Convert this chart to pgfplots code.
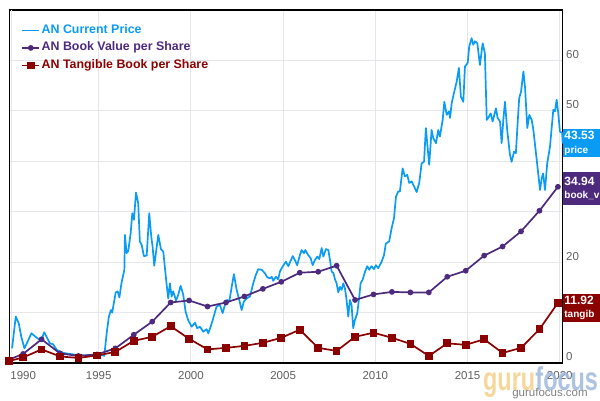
\documentclass[border=0pt]{standalone}
\usepackage{fontspec}
\setmainfont{Liberation Sans}
\usepackage{pgfplots}
\pgfplotsset{compat=1.18}
\definecolor{pricec}{HTML}{0A9BF5}
\definecolor{bookc}{HTML}{4E2A7E}
\definecolor{tangc}{HTML}{8B0000}
\definecolor{gridc}{HTML}{E4E6EA}
\definecolor{tickc}{HTML}{606060}
\definecolor{guruc}{HTML}{F5D08A}
\definecolor{focusc}{HTML}{9DB9DD}

\begin{document}
\begin{tikzpicture}
\begin{axis}[
  scale only axis, width=553.4pt, height=353pt,
  xmin=1990.15, xmax=2020.16, ymin=0, ymax=70,
  xtick={1995,2000,...,2020},
  extra x ticks={1990.28}, extra x tick labels={1990},
  extra x tick style={xticklabel style={xshift=11.5pt}},
  ytick={0,10,...,60},
  yticklabels={0,,20,,,50,60},
  yticklabel pos=right,
  /pgf/number format/1000 sep={},
  /pgf/number format/assume math mode=true,
  major tick length=0pt,
  xmajorgrids, ymajorgrids,
  major grid style={gridc, line width=1pt},
  axis line style={black, line width=1.2pt},
  tick label style={tickc, font=\fontsize{11.5}{13}\selectfont},
  xticklabel style={yshift=-5pt},
  yticklabel style={anchor=west, yshift=6pt},
  clip=false,
  legend cell align=left,
  legend style={at={(0.0215,0.964)}, anchor=north west, draw=none, fill=none,
    inner sep=0pt, row sep=2.5pt,
    font=\bfseries\fontsize{12.4}{14}\selectfont,
    nodes={inner sep=1.5pt, text height=9pt, text depth=3pt}},
]
\addplot[pricec, line width=1.7pt, line join=round] coordinates {
(1990.3,2.9) (1990.5,9.2) (1990.66,7.9) (1990.8,5.2) (1990.97,2.9) (1991.1,3.9)
(1991.35,5.9) (1991.57,5.2) (1991.8,4.6) (1991.93,4.9) (1992.04,6.1) (1992.17,5.2)
(1992.35,3.9) (1992.53,3.7) (1992.72,2.6) (1993.08,2.0) (1993.44,1.8) (1993.8,1.6)
(1994.25,1.5) (1994.7,1.6) (1995.16,1.6) (1995.3,1.4) (1995.43,5.9) (1995.55,9.2)
(1995.66,10.5) (1995.73,10.0) (1995.92,14.0) (1996.03,14.2) (1996.12,13.0) (1996.24,16.0)
(1996.39,18.5) (1996.42,25.4) (1996.51,21.8) (1996.6,22.2) (1996.73,25.7) (1996.82,29.7)
(1996.91,28.4) (1997.02,33.8) (1997.14,31.7) (1997.23,24.1) (1997.33,23.4) (1997.45,21.2)
(1997.6,21.3) (1997.74,29.7) (1997.85,25.0) (1997.92,23.1) (1998.01,19.3) (1998.23,25.4)
(1998.37,22.6) (1998.5,22.1) (1998.68,15.6) (1998.77,12.8) (1998.86,15.8) (1998.95,13.2)
(1999.04,14.2) (1999.19,12.4) (1999.31,13.5) (1999.44,15.3) (1999.58,13.6) (1999.71,10.2)
(1999.85,8.5) (2000.04,7.2) (2000.22,8.0) (2000.34,6.9) (2000.49,7.2) (2000.67,6.2)
(2000.85,6.7) (2000.94,5.9) (2001.07,7.2) (2001.21,8.9) (2001.39,11.2) (2001.57,11.5)
(2001.72,9.9) (2001.84,11.5) (2001.97,12.5) (2002.08,12.2) (2002.21,15.1) (2002.33,17.6)
(2002.48,14.5) (2002.62,12.5) (2002.75,10.5) (2002.87,12.2) (2003.02,12.8) (2003.2,13.2)
(2003.38,15.8) (2003.52,17.5) (2003.65,18.6) (2003.83,18.5) (2004.01,17.8) (2004.14,17.0)
(2004.28,16.8) (2004.38,17.1) (2004.46,16.3) (2004.61,17.1) (2004.73,16.6) (2004.83,18.2)
(2005.0,19.3) (2005.15,20.1) (2005.28,19.2) (2005.52,21.2) (2005.64,20.4) (2005.76,19.4)
(2005.91,21.4) (2006.0,22.4) (2006.13,21.8) (2006.2,22.4) (2006.36,21.4) (2006.49,20.8)
(2006.6,19.4) (2006.72,20.4) (2006.85,21.1) (2006.96,20.6) (2007.09,22.8) (2007.18,21.1)
(2007.32,22.6) (2007.45,22.4) (2007.54,20.4) (2007.63,18.1) (2007.72,17.9) (2007.81,16.6)
(2007.9,15.8) (2007.99,14.0) (2008.08,15.1) (2008.17,14.5) (2008.26,15.8) (2008.35,14.8)
(2008.44,12.5) (2008.53,9.2) (2008.62,12.5) (2008.71,11.5) (2008.8,6.9) (2008.89,8.5)
(2009.02,9.9) (2009.13,13.2) (2009.2,15.8) (2009.31,16.5) (2009.44,18.1) (2009.56,19.2)
(2009.67,18.5) (2009.8,19.2) (2009.92,18.6) (2010.03,19.4) (2010.16,18.8) (2010.34,20.1)
(2010.47,21.4) (2010.57,23.7) (2010.75,24.1) (2010.88,26.7) (2011.01,28.7) (2011.12,33.0)
(2011.24,34.0) (2011.33,34.0) (2011.48,38.6) (2011.6,37.0) (2011.73,37.3) (2011.84,35.7)
(2011.97,36.0) (2012.09,35.1) (2012.24,33.9) (2012.38,35.7) (2012.51,39.6) (2012.64,39.9)
(2012.74,46.6) (2012.87,41.3) (2012.92,39.3) (2013.05,46.2) (2013.14,44.6) (2013.29,43.6)
(2013.41,46.2) (2013.5,44.9) (2013.65,48.2) (2013.74,51.8) (2013.87,49.2) (2013.99,49.9)
(2014.05,48.6) (2014.14,51.5) (2014.26,53.5) (2014.41,55.8) (2014.53,58.5) (2014.64,52.8)
(2014.77,51.8) (2014.86,58.8) (2015.01,59.5) (2015.09,62.8) (2015.22,64.4) (2015.31,63.1)
(2015.4,63.8) (2015.53,63.4) (2015.67,59.1) (2015.82,63.4) (2015.94,61.4) (2016.04,48.2)
(2016.12,48.6) (2016.25,49.5) (2016.36,47.9) (2016.45,49.2) (2016.54,50.5) (2016.63,48.6)
(2016.76,47.9) (2016.85,43.6) (2016.94,48.2) (2017.03,51.8) (2017.15,46.2) (2017.3,41.3)
(2017.39,39.9) (2017.52,41.9) (2017.62,41.6) (2017.7,46.6) (2017.8,52.5) (2017.9,53.8)
(2018.03,57.8) (2018.12,54.5) (2018.24,46.6) (2018.35,49.2) (2018.48,48.2) (2018.57,46.2)
(2018.75,40.3) (2018.93,34.3) (2019.02,36.6) (2019.1,37.6) (2019.2,34.3) (2019.32,39.6)
(2019.47,42.9) (2019.65,50.2) (2019.74,49.9) (2019.83,52.2) (2019.92,49.5) (2020.01,45.9)
(2020.13,45.6) (2020.16,43.53)
};
\addlegendentry{\textcolor{pricec}{AN Current Price}}
\addplot[bookc, line width=1.7pt, mark=*, mark size=2pt] coordinates {
(1990.15,0.7) (1990.9,1.8) (1991.9,4.7) (1992.9,1.9) (1993.9,1.4) (1994.9,1.7)
(1995.9,2.9) (1996.9,5.6) (1997.9,8.2) (1998.9,12.0) (1999.9,12.4) (2000.9,11.2)
(2001.9,12.0) (2002.9,13.2) (2003.9,14.7) (2004.9,16.1) (2005.9,17.9) (2006.9,18.1)
(2007.9,19.3) (2008.9,12.5) (2009.9,13.6) (2010.9,14.1) (2011.9,14.0) (2012.9,14.0)
(2013.9,17.1) (2014.9,18.3) (2015.9,21.3) (2016.9,23.1) (2017.9,26.1) (2018.9,30.2)
(2019.9,34.94)
};
\addlegendentry{\textcolor{bookc}{AN Book Value per Share}}
\addplot[tangc, line width=1.7pt, mark=square*, mark size=3pt] coordinates {
(1990.15,0.4) (1990.9,1.1) (1991.9,2.7) (1992.9,1.3) (1993.9,1.0) (1994.9,1.5)
(1995.9,2.2) (1996.9,4.4) (1997.9,5.2) (1998.9,7.3) (1999.9,4.8) (2000.9,2.7)
(2001.9,3.0) (2002.9,3.4) (2003.9,4.0) (2004.9,5.0) (2005.9,6.6) (2006.9,3.0)
(2007.9,2.4) (2008.9,5.2) (2009.9,6.0) (2010.9,5.0) (2011.9,3.8) (2012.9,1.4)
(2013.9,3.9) (2014.9,3.6) (2015.9,4.7) (2016.9,2.0) (2017.9,3.0) (2018.9,6.7)
(2019.9,11.92)
};
\addlegendentry{\textcolor{tangc}{AN Tangible Book per Share}}
\tikzset{valbox/.style={text=white, anchor=west, align=left, text width=34pt,
  inner xsep=1.5pt, inner ysep=2pt, font=\bfseries\fontsize{12}{13.5}\selectfont}}
\newcommand{\sub}[1]{{\fontsize{10}{12}\selectfont #1}}
\node[valbox, fill=pricec] at (axis cs:2020.16,43.6) {43.53\\\sub{price}};
\node[valbox, fill=bookc, minimum height=33pt] at (axis cs:2020.16,34.6) {34.94\\\sub{book\_v}};
\node[valbox, fill=tangc] at (axis cs:2020.16,10.9) {11.92\\\sub{tangib}};
\end{axis}
\node[anchor=base west, inner sep=0pt, xscale=0.71, text=guruc, opacity=0.85,
  font=\bfseries\fontsize{33}{33}\selectfont] (g) at (473.7pt,-27pt) {guru};
\node[anchor=base west, inner sep=0pt, xscale=0.71, text=focusc, opacity=0.85,
  font=\bfseries\fontsize{33}{33}\selectfont] at (g.base east) {focus};
\node[anchor=base, inner sep=0pt, text=gray, font=\fontsize{11.5}{12}\selectfont]
  at (540.7pt,-33pt) {gurufocus.com};
\pgfresetboundingbox
\useasboundingbox (-9.3pt,-37pt) rectangle (590.7pt,363pt);
\end{tikzpicture}
\end{document}
